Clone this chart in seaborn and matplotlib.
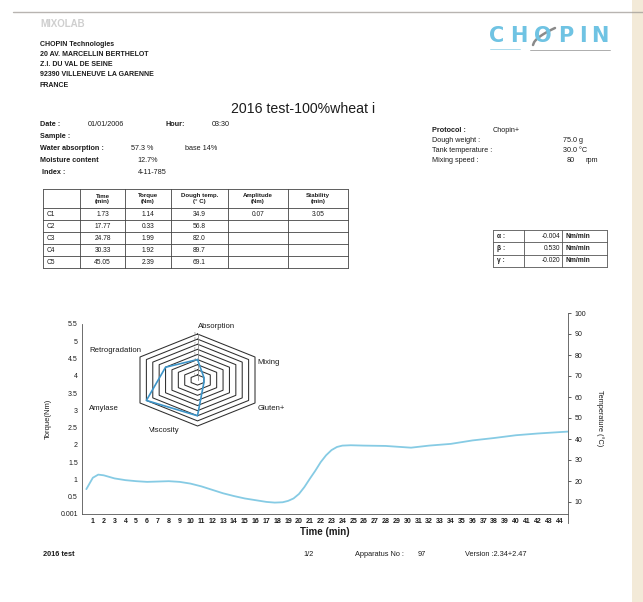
import numpy as np
import pandas as pd
import matplotlib
matplotlib.use("Agg")
import matplotlib.pyplot as plt
import seaborn as sns

sns.set_style("white")
plt.rcParams['font.family'] = ['Liberation Sans', 'DejaVu Sans']

# ---------------- data ----------------
time_min = [0.4, 1.0, 1.5, 2.0, 3.0, 4.0, 5.0, 6.0, 7.0, 8.0, 9.0, 10.0, 11.0,
            12.0, 13.0, 14.0, 15.0, 16.0, 17.0, 17.77, 18.5, 19.0, 19.5, 20.0,
            20.5, 21.0, 21.5, 22.0, 22.5, 23.0, 23.5, 24.0, 24.78, 26.0, 28.0,
            30.33, 32.0, 34.0, 36.0, 38.0, 40.0, 42.0, 44.0, 45.05]
torque_nm = [0.72, 1.05, 1.14, 1.12, 1.03, 0.98, 0.95, 0.93, 0.94, 0.95, 0.93,
             0.88, 0.80, 0.70, 0.60, 0.52, 0.45, 0.40, 0.35, 0.33, 0.34, 0.38,
             0.45, 0.58, 0.78, 1.02, 1.25, 1.50, 1.70, 1.85, 1.94, 1.98, 1.99,
             1.98, 1.97, 1.92, 1.98, 2.03, 2.13, 2.20, 2.28, 2.33, 2.37, 2.39]

radar_axes = ["Absorption", "Mixing", "Gluten+", "Viscosity", "Amylase", "Retrogradation"]
radar_scores = [4, 1, 1, 7, 8, 5]
radar_max = 9

point_names = ["C1", "C2", "C3", "C4", "C5"]
point_time = ["1.73", "17.77", "24.78", "30.33", "45.05"]
point_torque = ["1.14", "0.33", "1.99", "1.92", "2.39"]
point_temp = ["34.9", "56.8", "82.0", "89.7", "69.1"]
point_amplitude = ["0.07", "", "", "", ""]
point_stability = ["3.05", "", "", "", ""]
table_header = ["", "Time\n(min)", "Torque\n(Nm)", "Dough temp.\n(° C)",
                "Amplitude\n(Nm)", "Stability\n(min)"]

slope_names = ["α :", "β :", "γ :"]
slope_values = ["-0.004", "0.530", "-0.020"]

torque_ticks = [0.001, 0.5, 1, 1.5, 2, 2.5, 3, 3.5, 4, 4.5, 5, 5.5]
torque_ticklabels = ["0.001", "0.5", "1", "1.5", "2", "2.5", "3", "3.5", "4",
                     "4.5", "5", "5.5"]
time_ticks = list(range(1, 45))
temp_ticks = [10, 20, 30, 40, 50, 60, 70, 80, 90, 100]

# ---------------- figure ----------------
W, H = 643, 602
fig = plt.figure(figsize=(W / 100, H / 100), dpi=100)
fig.patch.set_facecolor("white")

# page-sized canvas in pixel units for the printed report text
bg = fig.add_axes([0, 0, 1, 1])
bg.set_xlim(0, W)
bg.set_ylim(H, 0)
bg.axis("off")

ink = "#1c1c1c"

# paper edges
bg.plot([13, W], [12, 12], color="#9a9590", lw=1.0, alpha=0.7)
bg.axvspan(632, W, color="#f3ead8", lw=0)

# logo
bg.text(40, 24, "MIXOLAB", fontsize=7, color="#cfcfcf", va="center", weight="bold")
logo_letters = ["C", "H", "O", "P", "I", "N"]
logo_x = [497, 519, 543, 566, 583, 600]
for ch, x in zip(logo_letters, logo_x):
    bg.text(x, 36, ch, fontsize=15, color="#6fc3e3", ha="center", va="center",
            weight="bold", family="DejaVu Sans")
arc_t = np.linspace(0, 1, 20)
bg.plot(533 + 22 * arc_t, 45 - 17 * arc_t ** 0.6, color="#8a8a8a", lw=1.8)
bg.plot([490, 520], [49, 49], color="#9fd6ea", lw=0.6)
bg.plot([530, 610], [50, 50], color="#a0a0a0", lw=0.6)

# address block
addr = ["CHOPIN Technologies", "20 AV. MARCELLIN BERTHELOT", "Z.I. DU VAL DE SEINE",
        "92390 VILLENEUVE LA GARENNE", "FRANCE"]
for i, line in enumerate(addr):
    bg.text(40, 44 + 10.3 * i, line, fontsize=5, weight="bold", color=ink, va="center")

# title
bg.text(303, 109, "2016 test-100%wheat i", fontsize=10.2, color=ink, ha="center", va="center")

fs = 5.2
bg.text(40, 125, "Date :", fontsize=fs, weight="bold", color=ink, va="center")
bg.text(88, 125, "01/01/2006", fontsize=fs, color=ink, va="center")
bg.text(165, 125, "Hour:", fontsize=fs, weight="bold", color=ink, va="center")
bg.text(212, 125, "03:30", fontsize=fs, color=ink, va="center")
bg.text(40, 136, "Sample :", fontsize=fs, weight="bold", color=ink, va="center")
bg.text(40, 148, "Water absorption :", fontsize=fs, weight="bold", color=ink, va="center")
bg.text(131, 148, "57.3 %", fontsize=fs, color=ink, va="center")
bg.text(185, 148, "base 14%", fontsize=fs, color=ink, va="center")
bg.text(40, 160, "Moisture content", fontsize=fs, weight="bold", color=ink, va="center")
bg.text(137, 160, "12.7%", fontsize=fs, color=ink, va="center")
bg.text(42, 172, "Index :", fontsize=fs, weight="bold", color=ink, va="center")
bg.text(138, 172, "4-11-785", fontsize=fs, color=ink, va="center")

bg.text(432, 130, "Protocol :", fontsize=fs, weight="bold", color=ink, va="center")
bg.text(493, 130, "Chopin+", fontsize=fs, color=ink, va="center")
bg.text(432, 141, "Dough weight :", fontsize=fs, color=ink, va="center")
bg.text(563, 141, "75.0 g", fontsize=fs, color=ink, va="center")
bg.text(432, 151, "Tank temperature :", fontsize=fs, color=ink, va="center")
bg.text(563, 151, "30.0 °C", fontsize=fs, color=ink, va="center")
bg.text(432, 161, "Mixing speed :", fontsize=fs, color=ink, va="center")
bg.text(567, 161, "80", fontsize=fs, color=ink, va="center")
bg.text(585, 161, "rpm", fontsize=fs, color=ink, va="center")

# characteristic points table
col_x = [43, 80, 125, 171, 228, 288, 348]
row_y = [189, 208, 220, 232, 244, 256, 268]
for x in col_x:
    bg.plot([x, x], [row_y[0], row_y[-1]], color="#444444", lw=0.6)
for y in row_y:
    bg.plot([col_x[0], col_x[-1]], [y, y], color="#444444", lw=0.6)
for j, head in enumerate(table_header):
    cx = (col_x[j] + col_x[j + 1]) / 2
    bg.text(cx, (row_y[0] + row_y[1]) / 2, head, fontsize=4.4, weight="bold",
            color=ink, ha="center", va="center", linespacing=1.0)
columns = [point_time, point_torque, point_temp, point_amplitude, point_stability]
for i, name in enumerate(point_names):
    cy = (row_y[i + 1] + row_y[i + 2]) / 2
    bg.text(col_x[0] + 4, cy, name, fontsize=4.8, color=ink, va="center")
    for j, col in enumerate(columns):
        cx = (col_x[j + 1] + col_x[j + 2]) / 2
        bg.text(cx, cy, col[i], fontsize=4.8, color=ink, ha="center", va="center")

# slope table
sx = [493, 524, 562, 607]
sy = [230, 242.3, 254.6, 267]
for x in sx:
    bg.plot([x, x], [sy[0], sy[-1]], color="#555555", lw=0.6)
for y in sy:
    bg.plot([sx[0], sx[-1]], [y, y], color="#555555", lw=0.6)
for i, (nm, val) in enumerate(zip(slope_names, slope_values)):
    cy = (sy[i] + sy[i + 1]) / 2
    bg.text(sx[0] + 4, cy, nm, fontsize=4.8, weight="bold", color=ink, va="center")
    bg.text(sx[2] - 2, cy, val, fontsize=4.8, color=ink, ha="right", va="center")
    bg.text(sx[2] + 3, cy, "Nm/min", fontsize=4.8, weight="bold", color=ink, va="center")

# footer
bg.text(43, 554, "2016 test", fontsize=5.3, weight="bold", color=ink, va="center")
bg.text(303, 554, "1/2", fontsize=5.3, color=ink, va="center")
bg.text(355, 554, "Apparatus No :", fontsize=5.3, color=ink, va="center")
bg.text(418, 554, "97", fontsize=5.3, color=ink, va="center")
bg.text(465, 554, "Version :2.34+2.47", fontsize=5.3, color=ink, va="center")

# ---------------- torque curve ----------------
x0, x1 = 82, 568
yb, yt = 514, 324
ax = fig.add_axes([x0 / W, 1 - yb / H, (x1 - x0) / W, (yb - yt) / H])
ax.patch.set_alpha(0)
df = pd.DataFrame({"time": time_min, "torque": torque_nm})
sns.lineplot(data=df, x="time", y="torque", ax=ax, color="#86cbe4", lw=1.3)
ax.set_xlim(0, 44.8)
ax.set_ylim(0, 5.5)
for s in ["top", "right"]:
    ax.spines[s].set_visible(False)
for s in ["left", "bottom"]:
    ax.spines[s].set_color("#555555")
    ax.spines[s].set_linewidth(0.6)
ax.set_yticks(torque_ticks)
ax.set_yticklabels(torque_ticklabels)
ax.set_xticks(time_ticks)
ax.set_xticklabels([str(t) for t in time_ticks])
ax.tick_params(axis="y", labelsize=5, length=2, width=0.5, pad=1, colors=ink)
ax.tick_params(axis="x", labelsize=5, length=1.5, width=0.5, pad=1.2, colors=ink)
for lab in ax.get_xticklabels():
    lab.set_fontweight("bold")
ax.set_xlabel("Time (min)", fontsize=7, weight="bold", color=ink, labelpad=1.5)
ax.set_ylabel("Torque(Nm)", fontsize=5.5, color=ink, labelpad=6)

# temperature scale
tb, tt = 523, 313
axt = fig.add_axes([x0 / W, 1 - tb / H, (x1 - x0) / W, (tb - tt) / H])
axt.patch.set_alpha(0)
axt.set_xlim(0, 44.8)
axt.set_ylim(0, 100)
for s in ["top", "left", "bottom"]:
    axt.spines[s].set_visible(False)
axt.spines["right"].set_color("#555555")
axt.spines["right"].set_linewidth(0.6)
axt.set_xticks([])
axt.yaxis.tick_right()
axt.yaxis.set_label_position("right")
axt.set_yticks(temp_ticks)
axt.tick_params(axis="y", labelsize=5, length=2, width=0.5, pad=3, colors=ink)
axt.set_ylabel("Temperature (°C)", fontsize=5.3, color=ink, rotation=-90, labelpad=12)

# ---------------- profiler radar ----------------
cx, cy = 197.5, 380
ux, uy = 66.4, 46.0
rad = fig.add_axes([(cx - 1.5 * ux) / W, 1 - (cy + 1.2 * uy) / H, 3 * ux / W, 2.4 * uy / H])
rad.set_xlim(-1.5, 1.5)
rad.set_ylim(-1.2, 1.2)
rad.axis("off")
angles = np.deg2rad([90, 30, -30, -90, -150, 150])
hx, hy = np.cos(angles), np.sin(angles)
for level in range(1, radar_max + 1):
    f = level / radar_max
    rad.plot(np.append(hx, hx[0]) * f, np.append(hy, hy[0]) * f, color="#2e2e2e", lw=0.75)
rad.plot([0, 0], [0, 1], color="#888888", lw=0.6)
for level in range(1, radar_max + 1):
    rad.text(-0.03, level / radar_max, str(level), fontsize=2.2, color="#777777",
             ha="right", va="center")
sc = np.array(radar_scores) / radar_max
px, py = hx * sc, hy * sc
rad.plot(np.append(px, px[0]), np.append(py, py[0]), color="#3d94c8", lw=1.2)

label_pos = {"Absorption": (217, 327), "Mixing": (269, 362), "Gluten+": (271, 408),
             "Viscosity": (164, 430), "Amylase": (104, 408), "Retrogradation": (115, 350)}
for name in radar_axes:
    lx, ly = label_pos[name]
    bg.text(lx, ly, name, fontsize=5.6, color=ink, ha="center", va="center", zorder=5)

fig.savefig("out.png", dpi=100)
